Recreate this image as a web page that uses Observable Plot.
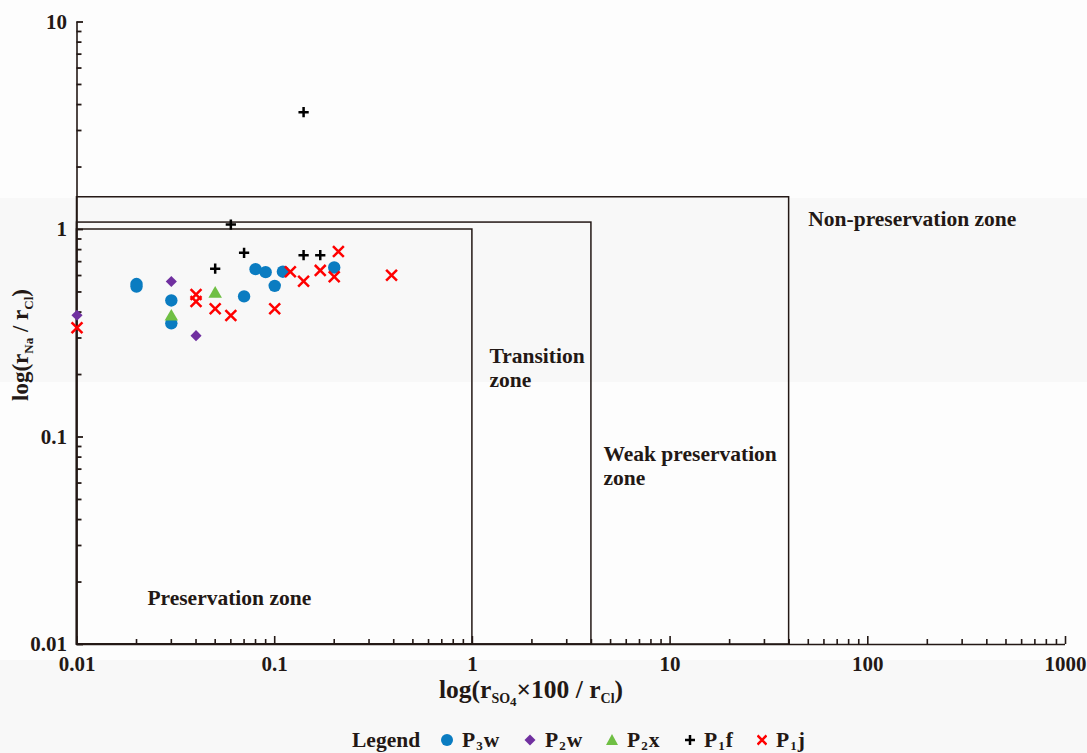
<!DOCTYPE html>
<html>
<head>
<meta charset="utf-8">
<script src="https://cdn.jsdelivr.net/npm/d3@7"></script>
<script src="https://cdn.jsdelivr.net/npm/@observablehq/plot@0.6"></script>
<style>
  body { margin: 0; background: #fdfdfd; }
  #wrap {
    width: 1087px; height: 753px; position: relative; overflow: hidden;
    background: linear-gradient(to bottom, #fdfdfd 0, #fdfdfd 198px, #f8f8f8 198px, #f8f8f8 382px, #fdfdfd 382px, #fdfdfd 660px, #f8f8f8 660px, #f8f8f8 753px);
    font-family: "Liberation Serif", "DejaVu Serif", serif; font-weight: bold; color: #231815;
  }
  #legend {
    position: absolute; left: 352px; top: 728px; height: 24px;
    display: flex; align-items: center; font-size: 21.5px; line-height: 24px; white-space: nowrap;
  }
  #legend .lab { width: 89px; }
  #legend .item { display: flex; align-items: center; }
  #legend svg { margin-right: 9px; }
  #legend sub { font-size: 13px; vertical-align: -3px; line-height: 0; margin: 0 1px; }
</style>
</head>
<body>
<div id="wrap"><div id="chart"></div><div id="legend"></div></div>
<script>
// ---- data ----
const xTicks = [0.01, 0.1, 1, 10, 100, 1000];
const yTicks = [0.01, 0.1, 1, 10];
const P3w = [[0.02,0.546],[0.02,0.531],[0.03,0.455],[0.03,0.353],[0.07,0.476],[0.08,0.644],[0.09,0.623],[0.1,0.535],[0.11,0.626],[0.2,0.656]];
const P2w = [[0.01,0.386],[0.03,0.562],[0.04,0.308]];
const P2x = [[0.03,0.38],[0.05,0.49]];
const P1f = [[0.05,0.647],[0.06,1.057],[0.07,0.772],[0.14,0.752],[0.17,0.752],[0.14,3.675]];
const P1j = [[0.01,0.336],[0.04,0.486],[0.04,0.45],[0.05,0.415],[0.06,0.385],[0.1,0.415],[0.12,0.626],[0.14,0.563],[0.17,0.635],[0.2,0.592],[0.21,0.783],[0.39,0.602]];
const zoneRight = [1, 4, 40];
const zoneTop = [1, 1.08, 1.43];
const zoneNames = ["Preservation zone", "Transition\nzone", "Weak preservation\nzone", "Non-preservation zone"];
const zoneLabelX = [0.0227, 1.22, 4.6, 50];
const zoneLabelY = [0.01685, 0.216, 0.0729, 1.13];
const legendNames = ["P3w", "P2w", "P2x", "P1f", "P1j"];

// ---- derived tables ----
const ink = "#231815";
const minorOf = (ticks) => ticks.slice(0, -1).flatMap(t => d3.range(2, 10).map(k => k * t));
const xMinor = minorOf(xTicks);
const yMinor = minorOf(yTicks);
const zones = zoneRight.map((r, i) => ({r, t: zoneTop[i]}));
const labels = zoneNames.map((t, i) => ({t, x: zoneLabelX[i], y: zoneLabelY[i]}));
const pt = (a) => a.map(([x, y]) => ({x, y}));
const fmt = d => String(d);
const x0 = () => xTicks[0];

const chart = Plot.plot({
  width: 1087, height: 710,
  marginLeft: 76.5, marginRight: 22, marginTop: 21.5, marginBottom: 66,
  x: {type: "log", domain: [xTicks[0], xTicks[xTicks.length - 1]], axis: null},
  y: {type: "log", domain: [yTicks[0], yTicks[yTicks.length - 1]], axis: null},
  style: {background: "transparent", fontFamily: "'Liberation Serif', 'DejaVu Serif', serif", fontWeight: "bold", fontSize: "21px", color: ink},
  marks: [
    Plot.rect(zones, {x1: x0, x2: "r", y1: () => yTicks[0], y2: "t", fill: "none", stroke: ink, strokeWidth: 1.5}),
    Plot.ruleX([xTicks[0]], {stroke: ink, strokeWidth: 1.6}),
    Plot.ruleY([yTicks[0]], {stroke: ink, strokeWidth: 1.6}),
    Plot.axisY(yTicks, {anchor: "left", tickSize: 0, tickPadding: 10, tickFormat: fmt, fontSize: 21, label: null}),
    // inward y ticks: zero-length rules at the axis, extended rightwards by a negative inset
    Plot.ruleY(yTicks, {y: d => d, x1: x0, x2: x0, insetRight: -6.5, stroke: ink, strokeWidth: 1.8}),
    Plot.ruleY(yMinor, {y: d => d, x1: x0, x2: x0, insetRight: -5, stroke: ink, strokeWidth: 1.8}),
    Plot.axisX(xTicks, {anchor: "bottom", tickSize: -8, tickPadding: 20, tickFormat: fmt, fontSize: 21, label: null, stroke: ink, strokeWidth: 1.6}),
    Plot.axisX(xMinor, {anchor: "bottom", tickSize: -5, tickPadding: 20, tickFormat: () => "", label: null, stroke: ink, strokeWidth: 1.6}),
    Plot.text(labels, {x: "x", y: "y", text: "t", textAnchor: "start", lineAnchor: "middle", lineHeight: 1.1, fontSize: 21.5, fontWeight: "bold", fill: ink}),
    Plot.dot(pt(P3w), {x: "x", y: "y", r: 6.2, fill: "#0a7cc1", stroke: "none"}),
    Plot.dot(pt(P2w), {x: "x", y: "y", r: 5, symbol: "diamond2", fill: "#7030a0", stroke: "none"}),
    Plot.dot(pt(P2x), {x: "x", y: "y", r: 5, symbol: "triangle", fill: "#6fbf44", stroke: "none"}),
    Plot.dot(pt(P1f), {x: "x", y: "y", r: 3.4, symbol: "plus", fill: "none", stroke: "#000000", strokeWidth: 2.5}),
    Plot.dot(pt(P1j), {x: "x", y: "y", r: 5, symbol: "times", fill: "none", stroke: "#ff0000", strokeWidth: 2.5})
  ]
});
document.getElementById("chart").appendChild(chart);

// axis titles with subscripts
const svg = d3.select(chart);
const yt = svg.append("text").attr("transform", "translate(28,345) rotate(-90)")
  .attr("text-anchor", "middle").attr("fill", ink).attr("font-size", 23).attr("font-weight", "bold");
yt.append("tspan").text("log(r");
yt.append("tspan").attr("font-size", 13).attr("dy", 5).text("Na");
yt.append("tspan").attr("dy", -5).text(" / r");
yt.append("tspan").attr("font-size", 13).attr("dy", 5).text("Cl");
yt.append("tspan").attr("dy", -5).text(")");

const xt = svg.append("text").attr("transform", "translate(531,698)")
  .attr("text-anchor", "middle").attr("fill", ink).attr("font-size", 25.5).attr("font-weight", "bold");
xt.append("tspan").text("log(r");
xt.append("tspan").attr("font-size", 14).attr("dy", 5).text("SO");
xt.append("tspan").attr("font-size", 13).attr("dy", 3).text("4");
xt.append("tspan").attr("dy", -8).text("×100 / r");
xt.append("tspan").attr("font-size", 14).attr("dy", 5).text("Cl");
xt.append("tspan").attr("dy", -5).text(")");

// legend (item widths follow the reference spacing)
const legendItemWidth = [83, 82, 79, 72, 60];
const symbolSvg = {
  P3w: '<svg width="12" height="14" viewBox="-6 -7 12 14"><circle r="6" fill="#0a7cc1"/></svg>',
  P2w: '<svg width="12" height="14" viewBox="-6 -7 12 14"><path d="M0,-5.5L5.5,0L0,5.5L-5.5,0Z" fill="#7030a0"/></svg>',
  P2x: '<svg width="12" height="14" viewBox="-6 -7 12 14"><path d="M0,-6L6,5L-6,5Z" fill="#6fbf44"/></svg>',
  P1f: '<svg width="10" height="14" viewBox="-5 -7 10 14"><path d="M-5,0L5,0M0,-5L0,5" stroke="#000" stroke-width="2.5"/></svg>',
  P1j: '<svg width="10" height="14" viewBox="-5 -7 10 14"><path d="M-4.5,-4.5L4.5,4.5M-4.5,4.5L4.5,-4.5" stroke="#f00" stroke-width="2.5"/></svg>'
};
const leg = document.getElementById("legend");
leg.innerHTML = '<span class="lab">Legend</span>' + legendNames.map((n, i) =>
  `<span class="item" style="width:${legendItemWidth[i]}px">${symbolSvg[n]}<span>${n[0]}<sub>${n[1]}</sub>${n.slice(2)}</span></span>`).join("");
</script>
</body>
</html>
